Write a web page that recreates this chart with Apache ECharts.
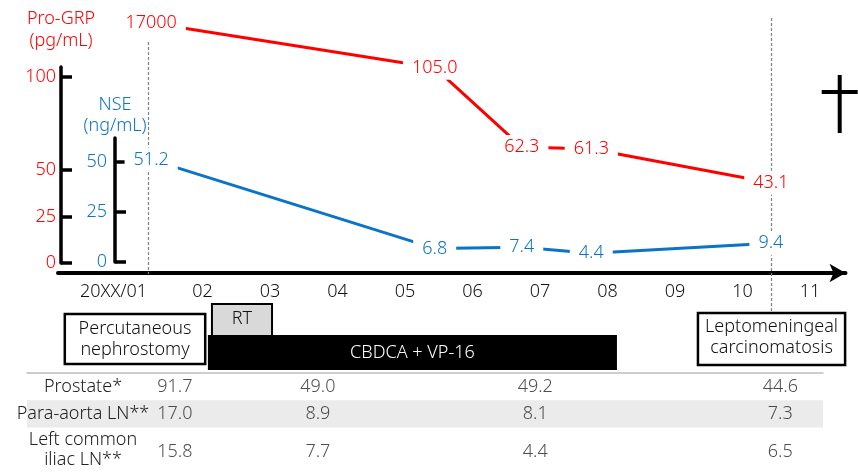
<!DOCTYPE html>
<html><head><meta charset="utf-8">
<script src="https://cdn.jsdelivr.net/npm/echarts@6/dist/echarts.min.js"></script>
<style>html,body{margin:0;padding:0;background:#fff}#c{width:858px;height:474px}</style>
</head><body><div id="c"></div>
<script>
// ---------------- data ----------------
const monthValues = [1, 2, 3, 4, 5, 6, 7, 8, 9, 10, 11];
const monthLabels = ['20XX/01', '02', '03', '04', '05', '06', '07', '08', '09', '10', '11'];
const measureDates = [1.24, 5.44, 6.73, 7.76, 10.42];
const proGRP = [17000, 105.0, 62.3, 61.3, 43.1];
const nse = [51.2, 6.8, 7.4, 4.4, 9.4];
const proGRPTicks = [0, 25, 50, 100];
const nseTicks = [0, 25, 50];
const eventDates = [1.19, 10.42];
const treatmentNames = ['Percutaneous\nnephrostomy', 'RT', 'CBDCA + VP-16', 'Leptomeningeal\ncarcinomatosis'];
const treatmentStart = [-0.04, 2.14, 2.08, 9.34];
const treatmentEnd = [2.04, 3.03, 8.14, 11.52];
const deathDate = [11.44];
const tableRows = ['Prostate*', 'Para-aorta LN**', 'Left common\niliac LN**'];
const tableDates = [1.59, 3.71, 6.93, 10.56];
const prostate = [91.7, 49.0, 49.2, 44.6];
const paraAortaLN = [17.0, 8.9, 8.1, 7.3];
const leftCommonIliacLN = [15.8, 7.7, 4.4, 6.5];

// ---------------- layout ----------------
const FONT = 'Noto Sans';
const FW = 300;
const RED = '#ff0000';
const BLUE = '#0b74c6';
const M2_PX = 202.5, PX_PER_MONTH = 67.5;
const pxToMonth = px => 2 + (px - M2_PX) / PX_PER_MONTH;
const AX_LEFT = 58, AX_RIGHT = 845.5, AX_Y = 273, TOP = 8;
const PRO_ZERO = 263, PRO_PX = 1.86, NSE_ZERO = 262, NSE_PX = 2.0;
const BREAK_START = 120, OFFSCALE_Y = 23;
const proPeak = Math.max(...proGRP);
const breakEnd = proPeak - ((PRO_ZERO - OFFSCALE_Y) / PRO_PX - BREAK_START);
const proMin = -(AX_Y - PRO_ZERO) / PRO_PX;
const proMax = (PRO_ZERO - TOP) / PRO_PX + (breakEnd - BREAK_START);
const nseMin = -(AX_Y - NSE_ZERO) / NSE_PX;
const nseMax = (NSE_ZERO - TOP) / NSE_PX;

const TREAT_LAYOUT = [
  {top: 314, h: 50, fill: '#fff', color: '#111', lw: 2.5},
  {top: 304, h: 32, fill: '#d9d9d9', color: '#111', lw: 2, textDy: -1},
  {top: 335, h: 35, fill: '#000', color: '#fff', lw: 0},
  {top: 313, h: 52, fill: '#fff', color: '#111', lw: 2.5, textDy: -2}
];
const EVENT_SPANS = [{top: 42, bottom: 274}, {top: 18, bottom: 313}];

const fmt = v => v >= 1000 ? String(v) : v.toFixed(1);

const chart = echarts.init(document.getElementById('c'), null, {renderer: 'canvas'});
const tableSeriesData = [prostate, paraAortaLN, leftCommonIliacLN].flatMap((vals, r) =>
  vals.map((v, c) => ({value: [tableDates[c], r, v], label: r === 2 ? {offset: [0, 11]} : undefined})));

chart.setOption({
  animation: false,
  textStyle: {fontFamily: FONT, fontWeight: FW},
  grid: [
    {left: AX_LEFT, top: TOP, width: AX_RIGHT - AX_LEFT, height: AX_Y - TOP},
    {left: 61, top: 67, width: 2, height: PRO_ZERO - 67},
    {left: 115, top: 138, width: 2, height: NSE_ZERO - 138},
    {left: 27, top: 373, width: 823 - 27, height: 82}
  ],
  xAxis: [
    {gridIndex: 0, type: 'value', min: pxToMonth(AX_LEFT), max: pxToMonth(AX_RIGHT),
     axisLine: {show: true, onZero: false, lineStyle: {color: '#000', width: 4}, symbol: ['none', 'arrow'], symbolSize: [14, 16]},
     axisTick: {show: false}, splitLine: {show: false},
     axisLabel: {customValues: monthValues, color: '#111', fontSize: 18, margin: 10, fontFamily: FONT, fontWeight: FW,
       formatter: v => { const i = monthValues.indexOf(v); return i === 0 ? '{f|' + monthLabels[i] + '}' : monthLabels[i]; },
       rich: {f: {padding: [0, 43, 0, 0], fontSize: 18, color: '#111', fontFamily: FONT, fontWeight: FW}}}},
    {gridIndex: 1, type: 'value', show: false},
    {gridIndex: 2, type: 'value', show: false},
    {gridIndex: 3, type: 'value', min: pxToMonth(27), max: pxToMonth(823), position: 'top',
     axisLine: {show: true, onZero: false, lineStyle: {color: '#bdbdbd', width: 1.5}},
     axisTick: {show: false}, axisLabel: {show: false}, splitLine: {show: false}}
  ],
  yAxis: [
    {gridIndex: 0, type: 'value', show: false, min: proMin, max: proMax,
     breaks: [{start: BREAK_START, end: breakEnd, gap: 0}], breakArea: {show: false}},
    {gridIndex: 0, type: 'value', show: false, min: nseMin, max: nseMax},
    {gridIndex: 1, type: 'value', min: 0, max: (PRO_ZERO - 67) / PRO_PX, position: 'left',
     axisLine: {show: true, lineStyle: {color: '#000', width: 3.5}},
     axisTick: {show: true, inside: true, length: 11, customValues: proGRPTicks, lineStyle: {color: '#000', width: 3.5}},
     axisLabel: {customValues: proGRPTicks, color: RED, fontSize: 18, margin: 5, fontFamily: FONT, fontWeight: FW},
     splitLine: {show: false},
     name: 'Pro-GRP\n(pg/mL)', nameLocation: 'end', nameGap: 15,
     nameTextStyle: {color: RED, fontSize: 18, lineHeight: 22, align: 'center', fontFamily: FONT, fontWeight: FW}},
    {gridIndex: 2, type: 'value', min: 0, max: (NSE_ZERO - 138) / NSE_PX, position: 'left',
     axisLine: {show: true, lineStyle: {color: '#000', width: 3.5}},
     axisTick: {show: true, inside: true, length: 11, customValues: nseTicks, lineStyle: {color: '#000', width: 3.5}},
     axisLabel: {customValues: nseTicks, color: BLUE, fontSize: 18, margin: 8, fontFamily: FONT, fontWeight: FW},
     splitLine: {show: false},
     name: 'NSE\n(ng/mL)', nameLocation: 'end', nameGap: 2,
     nameTextStyle: {color: BLUE, fontSize: 18, lineHeight: 21, align: 'center', fontFamily: FONT, fontWeight: FW}},
    {gridIndex: 3, type: 'category', inverse: true, data: tableRows,
     axisLine: {show: false}, axisTick: {show: false},
     splitArea: {show: true, areaStyle: {color: ['#ffffff', '#ebebeb']}},
     axisLabel: {interval: 0, inside: true, align: 'center', margin: 56, fontSize: 18, color: '#222', lineHeight: 20,
       fontFamily: FONT, fontWeight: FW, hideOverlap: false,
       formatter: (v, i) => v.indexOf('\n') >= 0 ? '{s| }\n' + v : v,
       rich: {s: {lineHeight: 18, fontSize: 10}}}}
  ],
  series: [
    {type: 'custom', name: 'events', xAxisIndex: 0, yAxisIndex: 1, z: 1, clip: false, silent: true,
     data: eventDates.map(d => [d]), encode: {x: 0},
     renderItem: (params, api) => {
       const x = Math.round(api.coord([api.value(0), 0])[0]) + 0.5;
       const s = EVENT_SPANS[params.dataIndex];
       return {type: 'line', shape: {x1: x, y1: s.top, x2: x, y2: s.bottom},
         style: {stroke: '#808080', lineWidth: 1.2, lineDash: [3, 2]}};
     }},
    {type: 'custom', name: 'treatments', xAxisIndex: 0, yAxisIndex: 1, z: 2, clip: false, silent: true,
     data: treatmentNames.map((n, i) => [treatmentStart[i], treatmentEnd[i], i]), encode: {x: [0, 1]},
     renderItem: (params, api) => {
       const s = api.coord([api.value(0), 0])[0];
       const e = api.coord([api.value(1), 0])[0];
       const L = TREAT_LAYOUT[params.dataIndex];
       return {type: 'group', children: [
         {type: 'rect', shape: {x: s, y: L.top, width: e - s, height: L.h},
          style: {fill: L.fill, stroke: L.lw ? '#000' : null, lineWidth: L.lw}},
         {type: 'text', style: {text: treatmentNames[params.dataIndex], x: (s + e) / 2, y: L.top + L.h / 2 + (L.textDy || 0),
          align: 'center', verticalAlign: 'middle', fill: L.color, fontSize: 18, lineHeight: 21, fontFamily: FONT, fontWeight: FW}}
       ]};
     }},
    {type: 'custom', name: 'death', xAxisIndex: 0, yAxisIndex: 1, z: 2, clip: false, silent: true,
     data: deathDate.map(d => [d]), encode: {x: 0},
     renderItem: (params, api) => {
       const x = api.coord([api.value(0), 0])[0];
       return {type: 'group', children: [
         {type: 'line', shape: {x1: x, y1: 75, x2: x, y2: 133}, style: {stroke: '#000', lineWidth: 4}},
         {type: 'line', shape: {x1: x - 18, y1: 92, x2: x + 18, y2: 92}, style: {stroke: '#000', lineWidth: 4}}
       ]};
     }},
    {type: 'line', name: 'Pro-GRP', xAxisIndex: 0, yAxisIndex: 0, z: 5, clip: false, silent: true,
     data: measureDates.map((d, i) => [d, proGRP[i]]),
     symbol: 'circle', symbolSize: 2, itemStyle: {color: 'rgba(0,0,0,0)'},
     lineStyle: {color: RED, width: 3},
     label: {show: true, position: 'inside', formatter: p => fmt(p.value[1]), color: RED, fontSize: 18,
       fontFamily: FONT, fontWeight: FW, backgroundColor: '#fff', padding: [3, 9]}},
    {type: 'line', name: 'NSE', xAxisIndex: 0, yAxisIndex: 1, z: 5, clip: false, silent: true,
     data: measureDates.map((d, i) => [d, nse[i]]),
     symbol: 'circle', symbolSize: 2, itemStyle: {color: 'rgba(0,0,0,0)'},
     lineStyle: {color: BLUE, width: 3},
     label: {show: true, position: 'inside', formatter: p => fmt(p.value[1]), color: BLUE, fontSize: 18,
       fontFamily: FONT, fontWeight: FW, backgroundColor: '#fff', padding: [3, 9]}},
    {type: 'scatter', name: 'table', xAxisIndex: 3, yAxisIndex: 4, silent: true,
     symbolSize: 1, itemStyle: {color: 'rgba(0,0,0,0)'},
     data: tableSeriesData,
     label: {show: true, position: 'inside', formatter: p => p.value[2].toFixed(1), color: '#222', fontSize: 18,
       fontFamily: FONT, fontWeight: FW}}
  ]
});
</script></body></html>
